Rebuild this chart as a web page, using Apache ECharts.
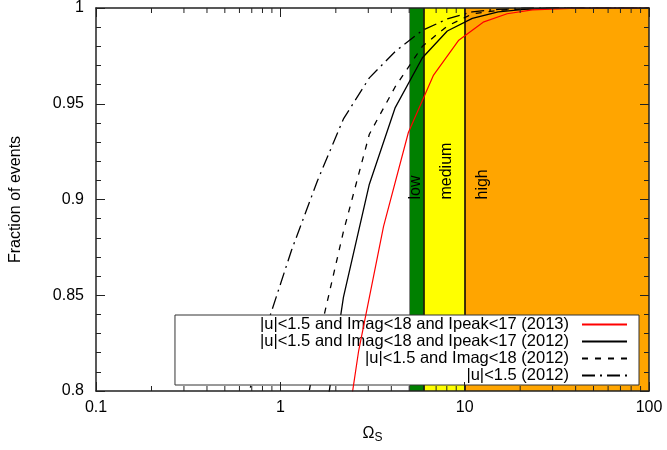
<!DOCTYPE html>
<html><head><meta charset="utf-8">
<script src="https://cdn.jsdelivr.net/npm/echarts@6/dist/echarts.min.js"></script>
<style>html,body{margin:0;padding:0;background:#fff}#c{width:667px;height:450px}</style>
</head><body><div id="c"></div>
<script>
// ---- data ----
const xMinorTicks = [0.2,0.3,0.4,0.5,0.6,0.7,0.8,0.9,2,3,4,5,6,7,8,9,20,30,40,50,60,70,80,90];
const seriesNames = [
  '|u|<1.5 and Imag<18 and Ipeak<17 (2013)',
  '|u|<1.5 and Imag<18 and Ipeak<17 (2012)',
  '|u|<1.5 and Imag<18 (2012)',
  '|u|<1.5 (2012)'
];
const redX = [1.95, 2.66, 3.63, 4.95, 6.78, 9.25, 12.6, 17.0, 23.3, 31.8, 43, 100];
const redY = [0.734, 0.821, 0.886, 0.935, 0.965, 0.983, 0.9926, 0.997, 0.999, 0.9995, 1.0, 1.0];
const solidX = [1.59, 2.2, 3.04, 4.2, 5.9, 8.05, 11, 15.2, 21, 29, 100];
const solidY = [0.759, 0.849, 0.908, 0.948, 0.974, 0.988, 0.9946, 0.998, 0.9993, 1.0, 1.0];
const dashX = [1.15, 1.59, 2.2, 3.04, 4.2, 5.9, 8.05, 11, 15.2, 21, 29, 100];
const dashY = [0.747, 0.8245, 0.8833, 0.9341, 0.9589, 0.980, 0.9906, 0.9969, 0.9988, 0.9996, 1.0, 1.0];
const dashDotX = [0.6, 0.83, 1.15, 1.59, 2.2, 3.04, 4.2, 5.9, 8.05, 11, 15.2, 21, 100];
const dashDotY = [0.78, 0.8318, 0.8735, 0.9098, 0.9421, 0.9635, 0.9773, 0.9883, 0.9943, 0.998, 0.9993, 1.0, 1.0];
const bandEdges = [5, 6, 10, 100];
const bandNames = ['low', 'medium', 'high'];
const bandColors = ['#008000', '#ffff00', '#ffa500'];
const bandLabelX = [5.45, 8.0, 12.5];
const bandLabelY = 0.9;

const zip = (xs, ys) => xs.map((x, i) => [x, ys[i]]);
const FONT = 'Liberation Sans';
const axisCol = '#222';

const bandAreas = bandNames.map((n, i) => [
  {xAxis: bandEdges[i], itemStyle: {color: bandColors[i], opacity: 1}},
  {xAxis: bandEdges[i + 1]}
]);

const baseX = {
  type: 'log', logBase: 10, min: 0.1, max: 100, z: 10,
  axisLine: {lineStyle: {color: axisCol, width: 1.5}},
  axisTick: {inside: true, length: 9, lineStyle: {color: axisCol, width: 1}},
  splitLine: {show: false}, minorTick: {show: false}
};
const baseY = {
  type: 'value', min: 0.8, max: 1, interval: 0.05, z: 10,
  axisLine: {show: true, lineStyle: {color: axisCol, width: 1.5}},
  axisTick: {show: true, inside: true, length: 9, lineStyle: {color: axisCol, width: 1}},
  minorTick: {show: true, splitNumber: 5, length: 5, lineStyle: {color: axisCol, width: 1}},
  splitLine: {show: false}
};

const option = {
  animation: false,
  textStyle: {fontFamily: FONT},
  grid: {left: 94, right: 18, top: 7, bottom: 59},
  xAxis: [
    Object.assign({}, baseX, {
      position: 'bottom',
      axisLabel: {fontSize: 16, color: '#000', margin: 9, fontFamily: FONT},
      name: '{a|Ω}{s|S}', nameLocation: 'middle', nameGap: 32,
      nameTextStyle: {rich: {
        a: {fontSize: 16, color: '#000', fontFamily: FONT},
        s: {fontSize: 12, color: '#000', fontFamily: FONT, padding: [9, 0, 0, 0]}
      }}
    }),
    Object.assign({}, baseX, {position: 'top', axisLabel: {show: false}})
  ],
  yAxis: [
    Object.assign({}, baseY, {
      position: 'left',
      axisLabel: {fontSize: 16, color: '#000', margin: 12, fontFamily: FONT},
      name: 'Fraction of events', nameLocation: 'middle', nameGap: 72,
      nameTextStyle: {fontSize: 16, color: '#000', fontFamily: FONT}
    }),
    Object.assign({}, baseY, {position: 'right', axisLabel: {show: false}})
  ],
  legend: {
    orient: 'vertical', align: 'right', right: 28, bottom: 65,
    data: seriesNames,
    backgroundColor: '#fff', borderColor: '#333', borderWidth: 1,
    padding: [1, 11, 1, 85], itemGap: 0, itemWidth: 45, itemHeight: 14,
    itemStyle: {opacity: 0},
    textStyle: {fontSize: 16.5, lineHeight: 16.5, color: '#000', fontFamily: FONT, padding: [0, 8, 0, 0]}
  },
  series: [
    {
      type: 'line', name: seriesNames[0], data: zip(redX, redY), symbol: 'none', showSymbol: false,
      lineStyle: {color: '#ff0000', width: 1.2}, itemStyle: {color: '#ff0000'}, z: 4,
      markArea: {silent: true, z: 1, data: bandAreas},
      markLine: {silent: true, symbol: 'none', z: 2, label: {show: false},
        data: [
          {xAxis: bandEdges[0], lineStyle: {color: '#888', width: 1, type: 'solid'}},
          {xAxis: bandEdges[1], lineStyle: {color: '#000', width: 1.5, type: 'solid'}},
          {xAxis: bandEdges[2], lineStyle: {color: '#000', width: 1.5, type: 'solid'}}
        ]}
    },
    {
      type: 'line', name: seriesNames[1], data: zip(solidX, solidY), symbol: 'none', showSymbol: false,
      lineStyle: {color: '#000', width: 1.3}, itemStyle: {color: '#000'}, z: 3
    },
    {
      type: 'line', name: seriesNames[2], data: zip(dashX, dashY), symbol: 'none', showSymbol: false,
      lineStyle: {color: '#000', width: 1.3, type: [6, 7]}, itemStyle: {color: '#000'}, z: 3
    },
    {
      type: 'line', name: seriesNames[3], data: zip(dashDotX, dashDotY), symbol: 'none', showSymbol: false,
      lineStyle: {color: '#000', width: 1.3, type: [13, 5, 2, 5]}, itemStyle: {color: '#000'}, z: 3
    },
    {
      type: 'custom', name: 'bandLabels', silent: true, z: 5, clip: false,
      data: bandLabelX.map((x, i) => [x, bandLabelY, i]),
      encode: {x: 0, y: 1},
      renderItem: (params, api) => {
        const p = api.coord([api.value(0), api.value(1)]);
        return {
          type: 'text', x: p[0], y: p[1], rotation: Math.PI / 2,
          style: {text: bandNames[api.value(2)], fontSize: 16, fontFamily: FONT,
            fill: '#000', align: 'left', verticalAlign: 'middle'}
        };
      }
    },
    {
      type: 'custom', name: 'minorTicks', silent: true, z: 11, clip: false,
      data: xMinorTicks.map(v => [v, 0.8]),
      encode: {x: 0, y: 1},
      renderItem: (params, api) => {
        const b = api.coord([api.value(0), 0.8]);
        const t = api.coord([api.value(0), 1]);
        const st = {stroke: axisCol, lineWidth: 1};
        return {type: 'group', children: [
          {type: 'line', shape: {x1: b[0], y1: b[1], x2: b[0], y2: b[1] - 5}, style: st},
          {type: 'line', shape: {x1: t[0], y1: t[1], x2: t[0], y2: t[1] + 5}, style: st}
        ]};
      }
    }
  ]
};
echarts.init(document.getElementById('c')).setOption(option);
</script>
</body></html>
